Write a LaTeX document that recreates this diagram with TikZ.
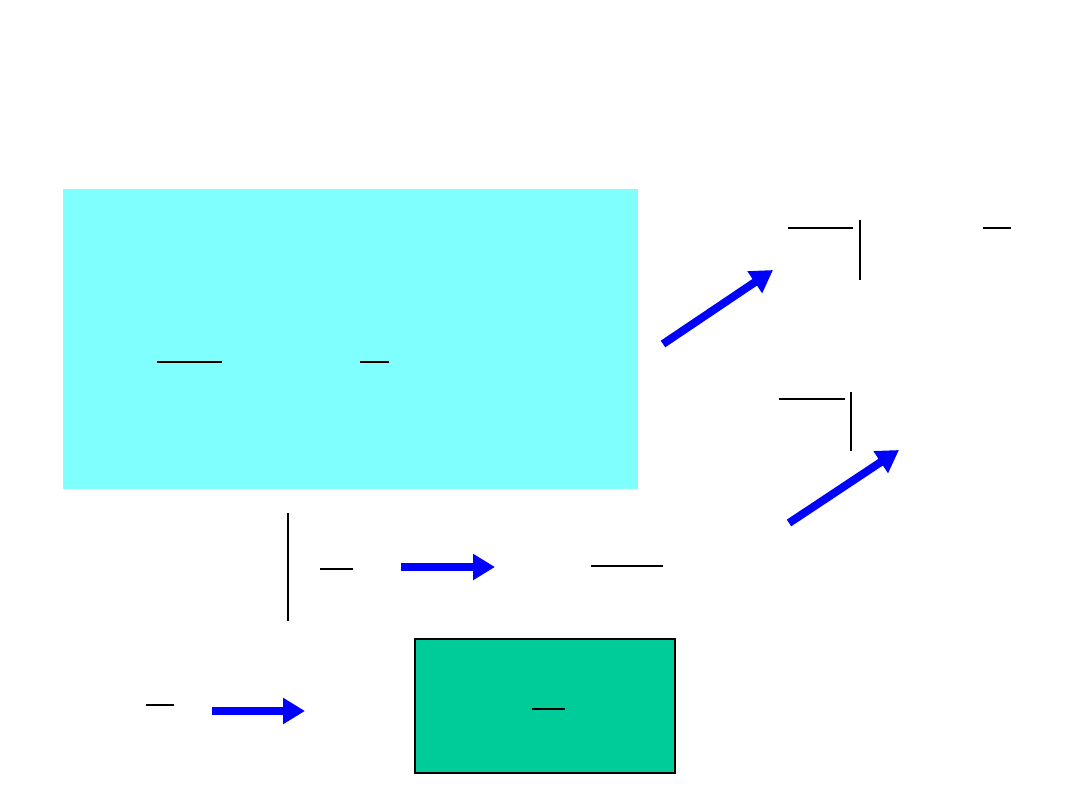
\documentclass[tikz,border=0pt]{standalone}
\usetikzlibrary{arrows.meta}
\definecolor{cyanbox}{HTML}{80FFFF}
\definecolor{greenbox}{HTML}{00CC99}
\definecolor{arrowblue}{HTML}{0000FF}
\begin{document}
\begin{tikzpicture}[x=1pt,y=-1pt,
  bigarrow/.style={draw=arrowblue,line width=8pt,-{Triangle[length=22pt,width=25pt]}},
  fracbar/.style={draw=black,line width=1.5pt},
  vbar/.style={draw=black,line width=1.8pt}]
\useasboundingbox (0,0) rectangle (1080,810);
\fill[white] (0,0) rectangle (1080,810);
% cyan box
\fill[cyanbox] (63,189) rectangle (638,489);
\draw[fracbar] (157,362) -- (222,362);
\draw[fracbar] (360,362) -- (389,362);
% top right
\draw[bigarrow] (663,344) -- (773,270);
\draw[fracbar] (788,228) -- (853,228);
\draw[vbar] (860,220) -- (860,280);
\draw[fracbar] (983,228) -- (1011,228);
% middle right
\draw[fracbar] (779,399) -- (845,399);
\draw[vbar] (851,392) -- (851,451);
\draw[bigarrow] (789,523) -- (899,450);
% lower row
\draw[vbar] (288,513) -- (288,621);
\draw[fracbar] (320,569) -- (353,569);
\draw[bigarrow] (401,567) -- (495,567);
\draw[fracbar] (591,566) -- (663,566);
% bottom row
\draw[fracbar] (146,705) -- (174,705);
\draw[bigarrow] (212,711) -- (305,711);
\draw[fill=greenbox,draw=black,line width=2pt] (415,639) rectangle (675,773);
\draw[fracbar] (532,709) -- (565,709);
\end{tikzpicture}
\end{document}
